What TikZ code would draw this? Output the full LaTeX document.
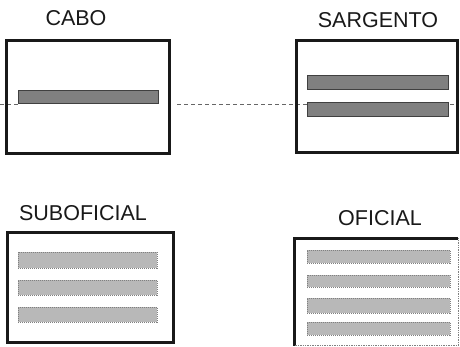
\documentclass[tikz,border=0pt]{standalone}
\usepackage{fontspec}
\setmainfont{Liberation Sans}
\begin{document}
\begin{tikzpicture}[x=1pt,y=-1pt,
  rankbox/.style={draw=black!90,line width=3pt,minimum width=#1,inner sep=0pt,fill=none},
  darkbar/.style={draw=black!75,line width=1pt,fill=black!50,inner sep=0pt,minimum width=141pt},
  lightbar/.style={draw=black!50,densely dotted,line width=1pt,fill=black!28,inner sep=0pt,minimum width=141pt},
  ranklabel/.style={font=\fontsize{21.5}{25}\selectfont,inner sep=0pt,text=black!90},
  guide/.style={draw=black!60,line width=0.6pt,dash pattern=on 4pt off 3pt}]
\useasboundingbox (0,0) rectangle (460,346);

% guide line (drawn first, behind bars)
\coordinate (g0) at (0,104);
\coordinate (g1) at (18,104);
\coordinate (g2) at (177,104);
\coordinate (g3) at (457,104);
\draw[guide] (g0) -- (g1);
\draw[guide] (g2) -- (g3);

% labels
\node[ranklabel] (lcabo) at (76,18) {CABO};
\node[ranklabel] (lsarg) at (378,20) {SARGENTO};
\node[ranklabel] (lsubo) at (83,213) {SUBOFICIAL};
\node[ranklabel] (lofic) at (380,218) {OFICIAL};

% CABO
\node[rankbox=163pt,minimum height=113pt] (cabo) at (87.5,96.5) {};
\node[darkbar,minimum width=140pt,minimum height=13pt] (cb1) at (88,96.5) {};

% SARGENTO
\node[rankbox=161pt,minimum height=112pt] (sarg) at (376.5,96) {};
\node[darkbar,minimum height=14pt] (sb1) at (377.5,82) {};
\node[darkbar,minimum height=14pt] (sb2) at (377.5,109) {};

% SUBOFICIAL
\node[rankbox=166pt,minimum height=110pt] (subo) at (90,287) {};
\node[lightbar,minimum width=139pt,minimum height=16pt] (ub1) at (87.5,260) {};
\node[lightbar,minimum width=139pt,minimum height=15pt] (ub2) at (87.5,287.5) {};
\node[lightbar,minimum width=139pt,minimum height=15pt] (ub3) at (87.5,314.5) {};

% OFICIAL
\node[inner sep=0pt,minimum width=163pt,minimum height=107pt] (ofic) at (376.5,292) {};
\draw[black!90,line width=3pt] (ofic.south west) -- (ofic.north west) -- (ofic.north east);
\draw[black!50,line width=0.7pt,densely dotted] (ofic.north east) -- (ofic.south east) -- (ofic.south west);
\node[lightbar,minimum width=143pt,minimum height=13pt] (ob1) at (378.5,256.5) {};
\node[lightbar,minimum width=143pt,minimum height=12pt] (ob2) at (378.5,281) {};
\node[lightbar,minimum width=143pt,minimum height=15pt] (ob3) at (378.5,305.5) {};
\node[lightbar,minimum width=143pt,minimum height=13pt] (ob4) at (378.5,328.5) {};
\end{tikzpicture}
\end{document}
